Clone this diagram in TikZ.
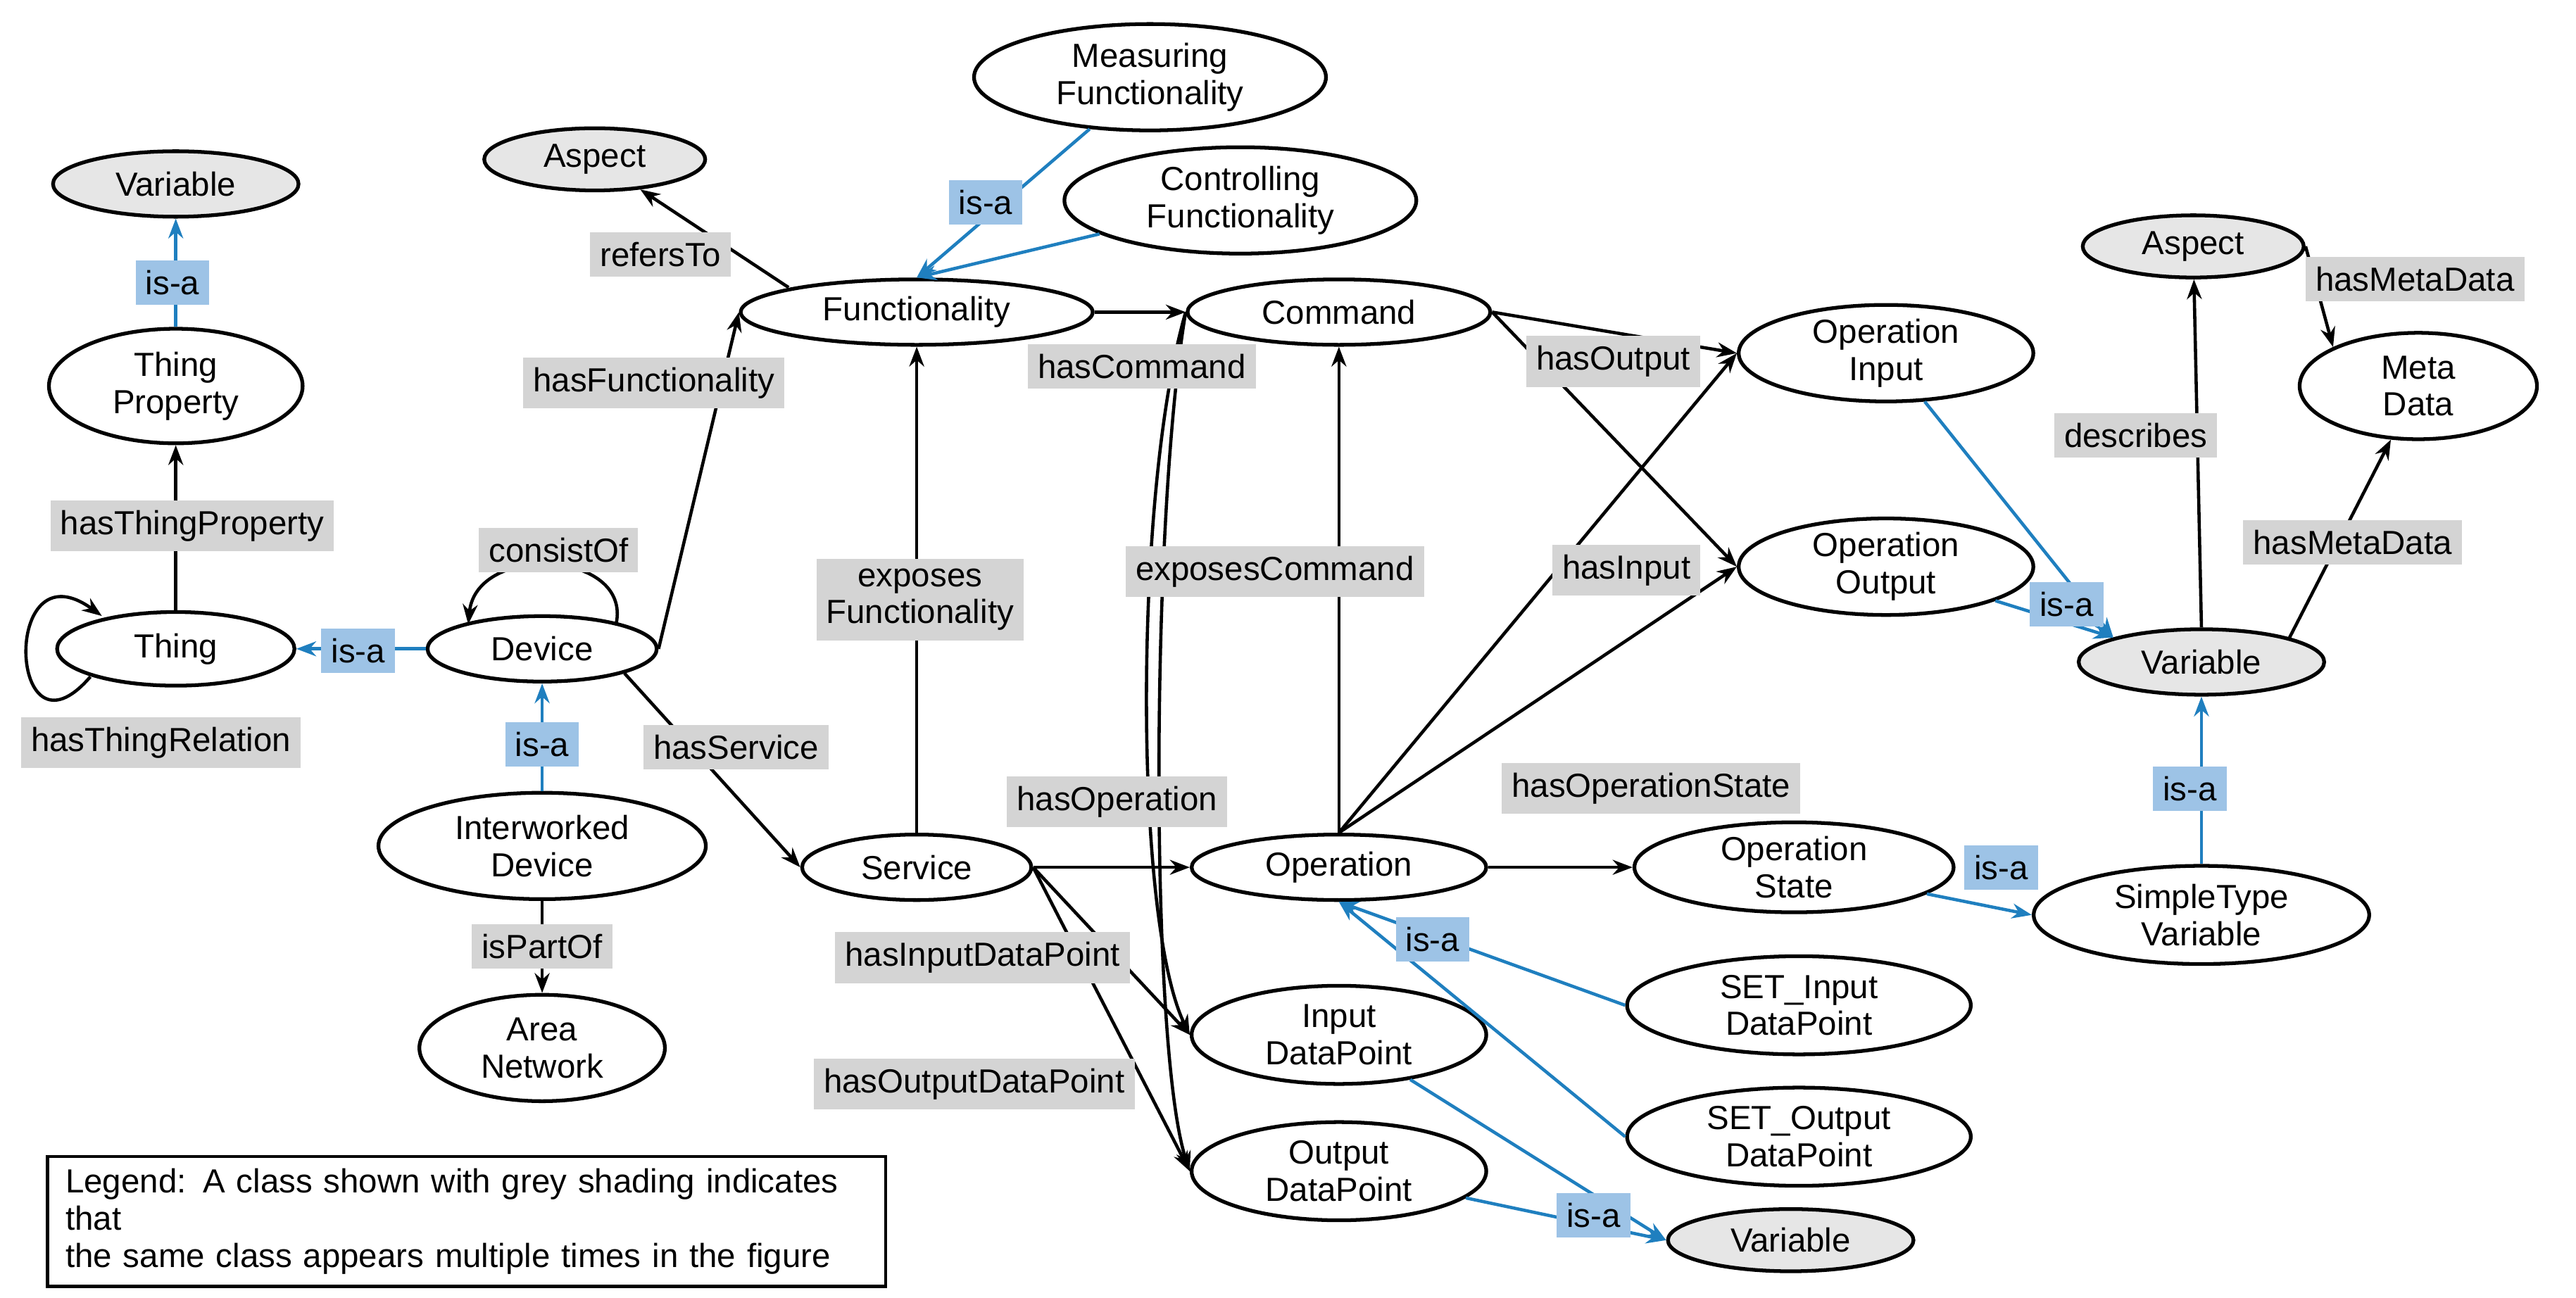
\documentclass[tikz,border=0pt]{standalone}
\usepackage{fontspec}
\setmainfont{Liberation Sans}
\usetikzlibrary{shapes.geometric,arrows.meta}
\definecolor{lblue}{HTML}{9DC3E6}
\definecolor{dblue}{HTML}{1F7FBF}
\definecolor{lgray}{HTML}{D4D4D4}
\definecolor{egray}{HTML}{E6E6E6}
\begin{document}
\begin{tikzpicture}[x=0.02333cm,y=-0.02333cm,
 font=\fontsize{13.5}{15}\selectfont,
 cls/.style 2 args={ellipse,draw,line width=1.5pt,minimum width={#1*0.6614pt},minimum height={#2*0.6614pt},align=center,inner sep=0pt},
 gcls/.style 2 args={cls={#1}{#2},fill=egray},
 lab/.style={fill=lgray,inner sep=4pt,align=center},
 isa/.style={fill=lblue,inner sep=4pt},
 rel/.style={draw,line width=1.3pt,-{Stealth[length=8pt,width=6pt]}},
 sub/.style={draw=dblue,line width=1.3pt,-{Stealth[length=8pt,width=6pt]}}]
\useasboundingbox (0,0) rectangle (1568,790);
% classes
\node[gcls={150}{40}] (var1) at (107,112) {Variable};
\node[cls={155}{70}] (tp) at (107,235) {Thing\\Property};
\node[cls={145}{45}] (thing) at (107,395) {Thing};
\node[cls={140}{40}] (dev) at (330,395) {Device};
\node[cls={200}{65}] (iw) at (330,515) {Interworked\\Device};
\node[cls={150}{65}] (an) at (330,638) {Area\\Network};
\node[gcls={135}{38}] (asp1) at (362,97) {Aspect};
\node[cls={215}{40}] (fun) at (558,190) {Functionality};
\node[cls={215}{65}] (mf) at (700,47) {Measuring\\Functionality};
\node[cls={215}{65}] (cf) at (755,122) {Controlling\\Functionality};
\node[cls={185}{40}] (cmd) at (815,190) {Command};
\node[cls={180}{55}] (oi) at (1148,215) {Operation\\Input};
\node[cls={180}{55}] (oo) at (1148,345) {Operation\\Output};
\node[gcls={135}{38}] (asp2) at (1335,150) {Aspect};
\node[cls={145}{65}] (md) at (1472,235) {Meta\\Data};
\node[gcls={150}{40}] (var2) at (1340,403) {Variable};
\node[cls={140}{40}] (svc) at (558,528) {Service};
\node[cls={180}{40}] (op) at (815,528) {Operation};
\node[cls={195}{55}] (os) at (1092,528) {Operation\\State};
\node[cls={205}{60}] (stv) at (1340,557) {SimpleType\\Variable};
\node[cls={210}{60}] (si) at (1095,612) {SET\_Input\\DataPoint};
\node[cls={210}{60}] (so) at (1095,692) {SET\_Output\\DataPoint};
\node[cls={180}{60}] (idp) at (815,630) {Input\\DataPoint};
\node[cls={180}{60}] (odp) at (815,713) {Output\\DataPoint};
\node[gcls={150}{38}] (var3) at (1090,755) {Variable};
\node[draw,line width=1.3pt,minimum width={512*0.6614pt},minimum height={59*0.6614pt},text width={490*0.6614pt},align=left,anchor=north west,inner sep=5pt] (leg) at (28,703) {Legend: A class shown with grey shading indicates that\\the same class appears multiple times in the figure};
% edges
\path[sub] (tp) -- (var1);
\path[rel] (thing) -- (tp);
\coordinate (t1) at (55,412);
\coordinate (t2) at (62,375);
\draw[rel] (t1) .. controls (5,470) and (0,330) .. (t2);
\path[sub] (dev) -- (thing);
\coordinate (d1) at (285,380);
\coordinate (d2) at (375,380);
\draw[rel] (d2) .. controls (385,335) and (290,330) .. (d1);
\path[sub] (iw) -- (dev);
\path[rel] (iw) -- (an);
\path[rel] (dev.east) -- (fun.west);
\coordinate (f1) at (480,175);
\draw[rel] (f1) -- (asp1);
\path[sub] (mf) -- (fun.north);
\path[sub] (cf) -- (fun.north);
\path[rel] (fun) -- (cmd);
\path[rel] (dev.south east) -- (svc.west);
\path[rel] (svc.north) -- (fun.south);
\path[rel] (svc) -- (op);
\path[rel] (op.north) -- (cmd.south);
\draw[rel] (cmd.west) .. controls (690,300) and (690,560) .. (idp.west);
\draw[rel] (cmd.west) .. controls (700,320) and (700,640) .. (odp.west);
\path[rel] (svc.east) -- (idp.west);
\path[rel] (svc.east) -- (odp.west);
\path[rel] (cmd.east) -- (oi.west);
\path[rel] (cmd.east) -- (oo.west);
\path[rel] (op.north) -- (oi.west);
\path[rel] (op.north) -- (oo.west);
\path[rel] (op) -- (os);
\path[sub] (os) -- (stv.west);
\path[sub] (stv) -- (var2);
\path[sub] (oi) -- (var2.north west);
\path[sub] (oo) -- (var2.north west);
\path[rel] (var2.north) -- (asp2);
\path[rel] (var2.north east) -- (md);
\path[rel] (asp2.east) -- (md.north west);
\path[sub] (si.west) -- (op.south);
\path[sub] (so.west) -- (op.south);
\path[sub] (idp) -- (var3.west);
\path[sub] (odp) -- (var3.west);
% labels
\node[isa] (l1) at (105,172) {is-a};
\node[lab] (l2) at (117,320) {hasThingProperty};
\node[lab] (l3) at (98,452) {hasThingRelation};
\node[isa] (l4) at (218,396) {is-a};
\node[lab] (l5) at (340,335) {consistOf};
\node[isa] (l6) at (330,453) {is-a};
\node[lab] (l7) at (330,576) {isPartOf};
\node[lab] (l8) at (398,233) {hasFunctionality};
\node[lab] (l9) at (402,155) {refersTo};
\node[isa] (l10) at (600,123) {is-a};
\node[lab] (l11) at (695,223) {hasCommand};
\node[lab] (l12) at (448,455) {hasService};
\node[lab] (l13) at (560,365) {exposes\\Functionality};
\node[lab] (l14) at (680,488) {hasOperation};
\node[lab] (l15) at (776,348) {exposesCommand};
\node[lab] (l16) at (598,583) {hasInputDataPoint};
\node[lab] (l17) at (593,660) {hasOutputDataPoint};
\node[lab] (l18) at (982,220) {hasOutput};
\node[lab] (l19) at (990,347) {hasInput};
\node[lab] (l20) at (1005,480) {hasOperationState};
\node[isa] (l21) at (1218,528) {is-a};
\node[isa] (l22) at (1333,480) {is-a};
\node[isa] (l23) at (1258,368) {is-a};
\node[lab] (l24) at (1300,265) {describes};
\node[lab] (l25) at (1432,330) {hasMetaData};
\node[lab] (l26) at (1470,170) {hasMetaData};
\node[isa] (l27) at (872,572) {is-a};
\node[isa] (l28) at (970,740) {is-a};
\end{tikzpicture}
\end{document}
